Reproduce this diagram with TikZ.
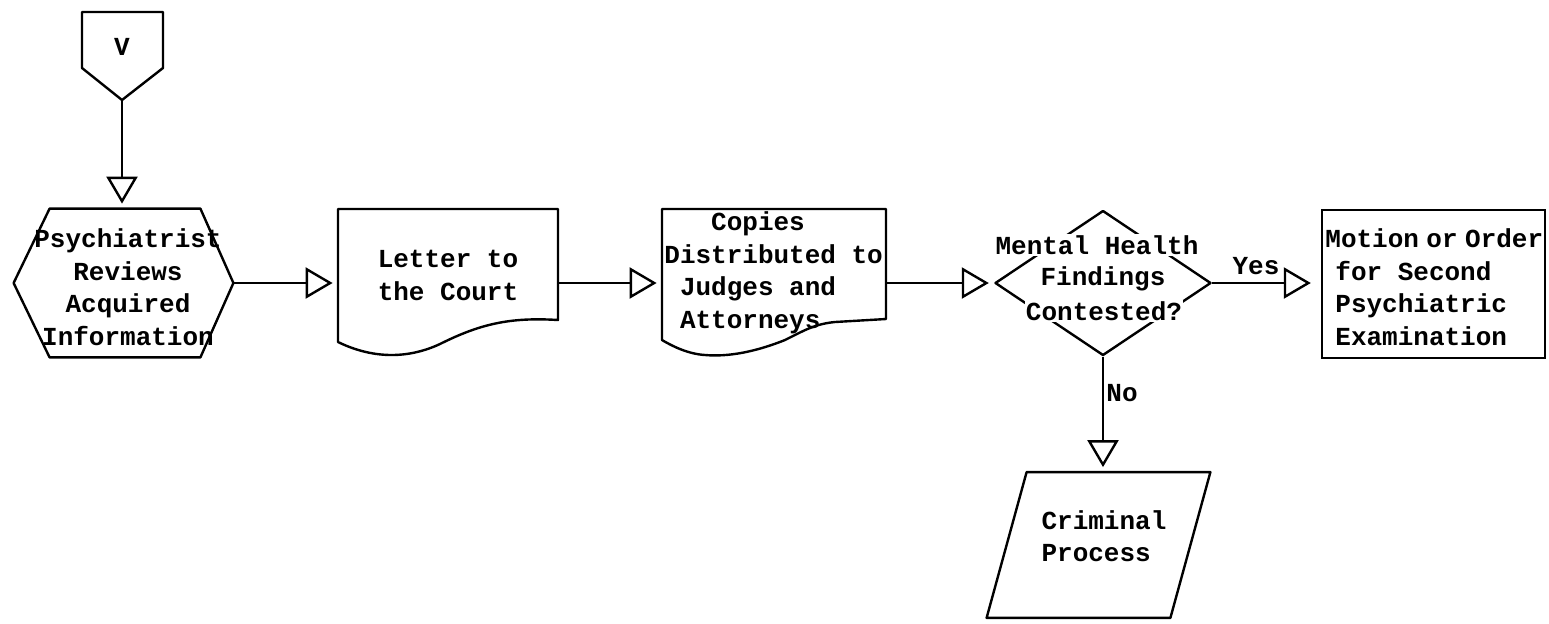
\documentclass[tikz,border=0pt]{standalone}
\usepackage{fontspec}
\setmonofont{Liberation Mono}
\usetikzlibrary{arrows.meta,calc,shapes.geometric}
\begin{document}
\begin{tikzpicture}[x=0.5pt,y=-0.5pt,
  txt/.style={font=\ttfamily\bfseries\fontsize{13pt}{16.25pt}\selectfont, inner sep=0pt, align=center},
  edgeline/.style={draw, line width=1.2pt, line join=round},
  shapebox/.style={inner sep=0pt, draw=none},
  flow/.style={line width=1.2pt, -{Triangle[open, length=13.5pt, width=15.5pt]}, shorten >=2.5pt},
  lbl/.style={font=\ttfamily\bfseries\fontsize{13pt}{16.25pt}\selectfont, inner sep=0pt}]
\fill[white] (0,0) rectangle (1549,623);
\useasboundingbox (0,0) rectangle (1549,623);

% off-page connector
\draw[edgeline] (82,12) -- (163,12) -- (163,68) -- (122,100) -- (82,68) -- cycle;
\node[txt] (offt) at (122,47) {V};
\coordinate (offtip) at (122,100);

% hexagon
\node[shapebox, minimum width=109.5pt, minimum height=74pt] (hex) at (123.5,283) {};
\draw[edgeline] (hex.west) -- ($(hex.north west)+(36,0)$) -- ($(hex.north east)+(-33,0)$) -- (hex.east) -- ($(hex.south east)+(-33,0)$) -- ($(hex.south west)+(36,0)$) -- cycle;
\node[txt] (hext) at (128,287) {Psychiatrist\\Reviews\\Acquired\\Information};

% document 1
\node[shapebox, txt, minimum width=110pt, minimum height=66.5pt] (doc1) at (448,275.5) {Letter to\\the Court};
\draw[edgeline] (338,209) -- (558,209) -- (558,320) .. controls (510,317) and (480,324) .. (440,344) .. controls (410,358) and (375,360) .. (338,342) -- cycle;

% document 2
\node[shapebox, minimum width=112pt, minimum height=65.5pt] (doc2) at (774,274.5) {};
\draw[edgeline] (662,209) -- (886,209) -- (886,319) -- (835,322) .. controls (815,324) and (805,330) .. (785,340) .. controls (755,352) and (728,357) .. (705,355) .. controls (688,354) and (672,346) .. (662,340) -- cycle;
\node[txt, anchor=west, align=left] (doc2t) at (664,273) {\hphantom{XXX}Copies\\Distributed to\\\hphantom{X}Judges and\\\hphantom{X}Attorneys};

% decision
\node[diamond, draw, line width=1.2pt, line join=round, minimum width=108pt, minimum height=72.5pt, inner sep=0pt] (dia) at (1103,283) {};
\node[lbl, fill=white, inner sep=0.5pt] (diat1) at (1097,245) {Mental Health};
\node[lbl, fill=white, inner sep=0.5pt] (diat2) at (1103,279) {Findings};
\node[lbl, fill=white, inner sep=0.5pt] (diat3) at (1104,311) {Contested?};

% motion box
\node[shapebox, draw, line width=1.2pt, minimum width=111.5pt, minimum height=74pt] (motion) at (1433.5,284) {};
\node[txt, anchor=west, align=left] (motiont) at (1325,287) {Motion\hspace{3.75pt}or\hspace{3.75pt}Order\\\hspace*{5pt}for Second\\\hspace*{5pt}Psychiatric\\\hspace*{5pt}Examination};

% criminal process
\node[shapebox, minimum width=111.5pt, minimum height=72.5pt] (crim) at (1098.5,545) {};
\draw[edgeline] ($(crim.north west)+(40,0)$) -- (crim.north east) -- ($(crim.south east)+(-40,0)$) -- (crim.south west) -- cycle;
\node[txt, align=left] (crimt) at (1104,536) {Criminal\\Process};

% labels
\node[lbl] (yes) at (1256,266) {Yes};
\node[lbl, anchor=west] (no) at (1106,393) {No};

% connectors
\draw[flow] (offtip) -- (offtip |- hex.north);
\draw[flow] (hex.east) -- (hex.east -| doc1.west);
\draw[flow] (doc1.east |- hex.east) -- (hex.east -| doc2.west);
\draw[flow] (doc2.east |- hex.east) -- (dia.west);
\draw[flow, shorten >=5pt] (dia.east) -- (dia.east -| motion.west);
\draw[flow] (dia.south) -- (dia.south |- crim.north);
\end{tikzpicture}
\end{document}
